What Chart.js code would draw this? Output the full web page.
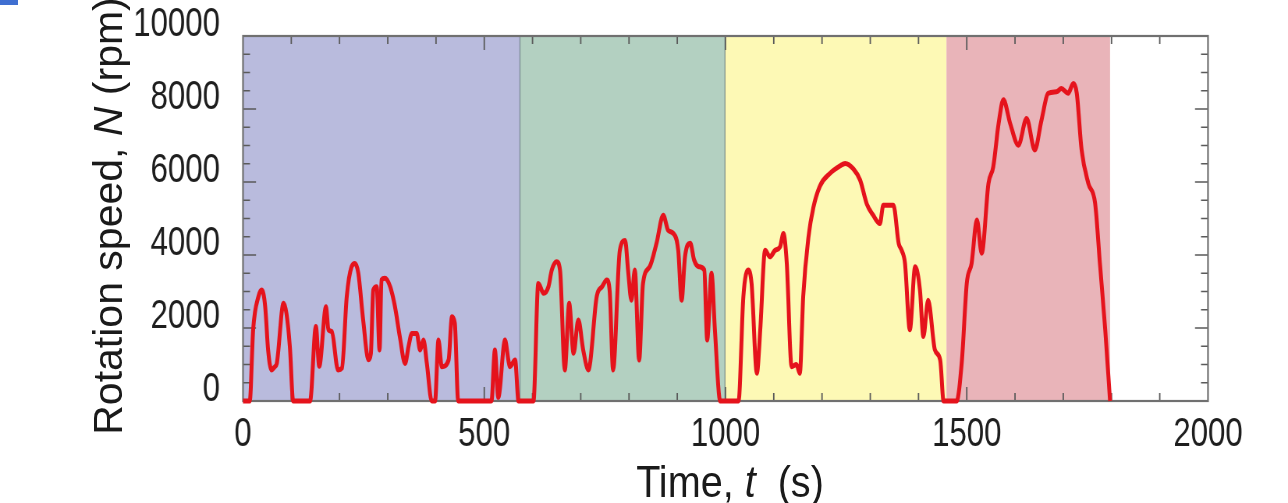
<!DOCTYPE html>
<html>
<head>
<meta charset="utf-8">
<script src="https://cdn.jsdelivr.net/npm/chart.js@4.4.1/dist/chart.umd.min.js"></script>
<style>
    body { margin: 0; background: #fff; }
    #wrap { position: relative; width: 1288px; height: 503px; overflow: hidden; }
    /* the original figure is squeezed horizontally, so the canvas is drawn wide and squeezed */
    #plot { position: absolute; left: 0; top: 0; width: 1651px; height: 503px; transform: scaleX(0.78013); transform-origin: 0 0; }
    #corner { position: absolute; left: 0; top: 0; width: 18px; height: 5px; background: #3f6fd1; }
    .axis-title { position: absolute; color: #1a1a1a; white-space: pre; text-align: center; }
    #xTitle {
        left: 430px; top: 457px; width: 600px; height: 44px; line-height: 44px;
        font: 44px "Liberation Sans", Arial, sans-serif;
        transform: scaleX(0.9);
    }
    #yTitle {
        left: -115px; top: 196px; width: 440px; height: 40px; line-height: 40px;
        font: 41px "Liberation Sans", Arial, sans-serif;
        transform: rotate(-90deg);
    }
</style>
</head>
<body>
<div id="wrap">
    <div id="plot"><canvas id="chart" width="1651" height="503"></canvas></div>
    <div id="corner"></div>
    <div class="axis-title" id="yTitle">Rotation speed, <i>N</i> (rpm)</div>
    <div class="axis-title" id="xTitle">Time, <i>t</i>  (s)</div>
</div>
<script>
(function () {
    // time (s) and engine speed (rpm)
    const timeS = [
        0, 7, 14, 21, 32, 39, 46, 52, 59, 66, 70, 84, 90, 97, 104, 139, 151, 158, 172, 177,
        184, 197, 205, 215, 225, 232, 239, 249, 260, 265, 270, 277, 283, 287, 294, 305, 315, 325, 336, 343,
        350, 360, 367, 374, 381, 391, 398, 405, 412, 426, 433, 439, 446, 515, 522, 529, 543, 550, 553, 564,
        571, 602, 612, 623, 633, 640, 650, 657, 667, 676, 685, 695, 705, 716, 720, 733, 744, 754, 760, 767,
        781, 792, 798, 805, 812, 821, 829, 843, 857, 871, 881, 892, 902, 909, 916, 927, 935, 945, 956, 962,
        971, 978, 989, 1027, 1037, 1047, 1054, 1065, 1072, 1082, 1092, 1103, 1113, 1120, 1127, 1137, 1147, 1154, 1161, 1172,
        1182, 1196, 1216, 1237, 1248, 1265, 1279, 1293, 1306, 1320, 1327, 1348, 1359, 1365, 1372, 1382, 1393, 1403, 1410, 1420,
        1434, 1445, 1452, 1479, 1490, 1500, 1510, 1521, 1531, 1545, 1555, 1566, 1576, 1590, 1607, 1624, 1641, 1655, 1669, 1686,
        1696, 1710, 1721, 1728, 1738, 1752, 1766, 1776, 1787, 1797
    ];
    const speedRpm = [
        0, 0, 0, 1950, 2860, 3040, 2580, 1400, 850, 940, 1030, 2680, 2400, 1500, 0, 0, 2040, 950, 2580, 1950,
        1900, 850, 900, 2860, 3680, 3770, 3500, 2220, 1130, 1300, 3040, 3130, 1400, 3315, 3360, 3130, 2580, 1760, 1030, 1490,
        1850, 1850, 1400, 1670, 1030, 0, 0, 1670, 940, 1120, 2310, 2130, 0, 0, 1400, 100, 1670, 1120, 940, 1120,
        0, 0, 3220, 2950, 3130, 3590, 3815, 3590, 850, 2680, 1310, 2220, 1400, 850, 1100, 2860, 3130, 3315, 3000, 850,
        4130, 4400, 3590, 2760, 3590, 1120, 3220, 3680, 4320, 5090, 4680, 4590, 4130, 2760, 3950, 4320, 3860, 3680, 3590, 1670,
        3500, 1950, 0, 0, 2860, 3590, 3220, 760, 1950, 4130, 3950, 4130, 4220, 4590, 3770, 940, 1000, 760, 2860, 4500,
        5300, 5900, 6230, 6440, 6510, 6360, 6050, 5390, 5090, 4860, 5360, 5360, 4310, 4130, 3770, 1950, 3680, 3040, 1770, 2760,
        1400, 1120, 0, 0, 1120, 3220, 3770, 4960, 4050, 5960, 6420, 7600, 8250, 7600, 7010, 7740, 6880, 7700, 8430, 8470,
        8560, 8430, 8700, 8430, 6880, 5960, 5420, 3770, 1950, 0
    ];

    // test phases (shaded bands)
    const phaseStart = [0, 574, 999, 1458];
    const phaseEnd = [574, 999, 1458, 1797];
    const phaseColors = ['#b9bbdd', '#b3d0c1', '#fdf9b5', '#e9b4b9'];

    const xTicks = [0, 500, 1000, 1500, 2000];
    const yTicks = [0, 2000, 4000, 6000, 8000, 10000];

    const K = 1288 / 1651; // horizontal squeeze of the canvas

    const tickFont = { family: '"Liberation Sans", Arial, sans-serif', size: 40 };

    const points = timeS.map((t, i) => ({ x: t, y: speedRpm[i] }));

    // shaded phase bands + frame with inward ticks
    const framePlugin = {
        id: 'frame',
        beforeDatasetsDraw(chart) {
            const { ctx, chartArea: a, scales: { x, y } } = chart;
            ctx.save();
            phaseStart.forEach((s, i) => {
                const x0 = x.getPixelForValue(s);
                const x1 = x.getPixelForValue(phaseEnd[i]);
                ctx.fillStyle = phaseColors[i];
                ctx.fillRect(x0, a.top, x1 - x0, a.bottom - a.top);
            });
            // thin separators between the first phases
            ctx.strokeStyle = 'rgba(70, 90, 100, 0.6)';
            ctx.lineWidth = 1.3;
            [phaseStart[1], phaseStart[2]].forEach(v => {
                const px = x.getPixelForValue(v);
                ctx.beginPath();
                ctx.moveTo(px, a.top);
                ctx.lineTo(px, a.bottom);
                ctx.stroke();
            });

            ctx.strokeStyle = '#5a5a5a';
            ctx.lineWidth = 1.8;
            for (let t = 100; t < 2000; t += 100) {
                const px = x.getPixelForValue(t);
                const len = t % 500 === 0 ? 14 : 8;
                ctx.beginPath();
                ctx.moveTo(px, a.top);
                ctx.lineTo(px, a.top + len);
                ctx.moveTo(px, a.bottom);
                ctx.lineTo(px, a.bottom - len);
                ctx.stroke();
            }
            ctx.lineWidth = 1.5;
            for (let v = 500; v < 10000; v += 500) {
                const py = y.getPixelForValue(v);
                const len = (v % 2000 === 0 ? 13 : 7) / K;
                ctx.beginPath();
                ctx.moveTo(a.left, py);
                ctx.lineTo(a.left + len, py);
                ctx.moveTo(a.right, py);
                ctx.lineTo(a.right - len, py);
                ctx.stroke();
            }
            ctx.strokeStyle = '#707070';
            ctx.lineWidth = 2.2;
            ctx.strokeRect(a.left, a.top, a.right - a.left, a.bottom - a.top);
            ctx.restore();
        }
    };

    const ctx = document.getElementById('chart').getContext('2d');
    new Chart(ctx, {
        type: 'line',
        data: {
            datasets: [{
                data: points,
                borderColor: '#e5131c',
                borderWidth: 5,
                pointRadius: 0,
                cubicInterpolationMode: 'monotone',
                clip: 8
            }]
        },
        options: {
            responsive: false,
            animation: false,
            layout: { padding: { left: 0, right: 80 / K, top: 36, bottom: 0 } },
            plugins: {
                legend: { display: false },
                tooltip: { enabled: false }
            },
            scales: {
                x: {
                    type: 'linear',
                    min: 0,
                    max: 2000,
                    grid: { display: false, drawTicks: false },
                    border: { display: false },
                    afterFit: scale => {
                        scale.height = 102;
                        scale.paddingLeft = 0;
                        scale.paddingRight = 0;
                    },
                    afterBuildTicks: scale => { scale.ticks = xTicks.map(v => ({ value: v })); },
                    ticks: { font: tickFont, color: '#1e1e1e', padding: 10, maxRotation: 0, callback: v => String(v) }
                },
                y: {
                    min: 0,
                    max: 10000,
                    grid: { display: false, drawTicks: false },
                    border: { display: false },
                    afterFit: scale => {
                        scale.width = 243 / K;
                        scale.paddingTop = 0;
                        scale.paddingBottom = 0;
                    },
                    afterBuildTicks: scale => { scale.ticks = yTicks.map(v => ({ value: v })); },
                    ticks: { font: tickFont, color: '#1e1e1e', padding: 23 / K, labelOffset: -11, callback: v => String(v) }
                }
            }
        },
        plugins: [framePlugin]
    });
})();
</script>
</body>
</html>
